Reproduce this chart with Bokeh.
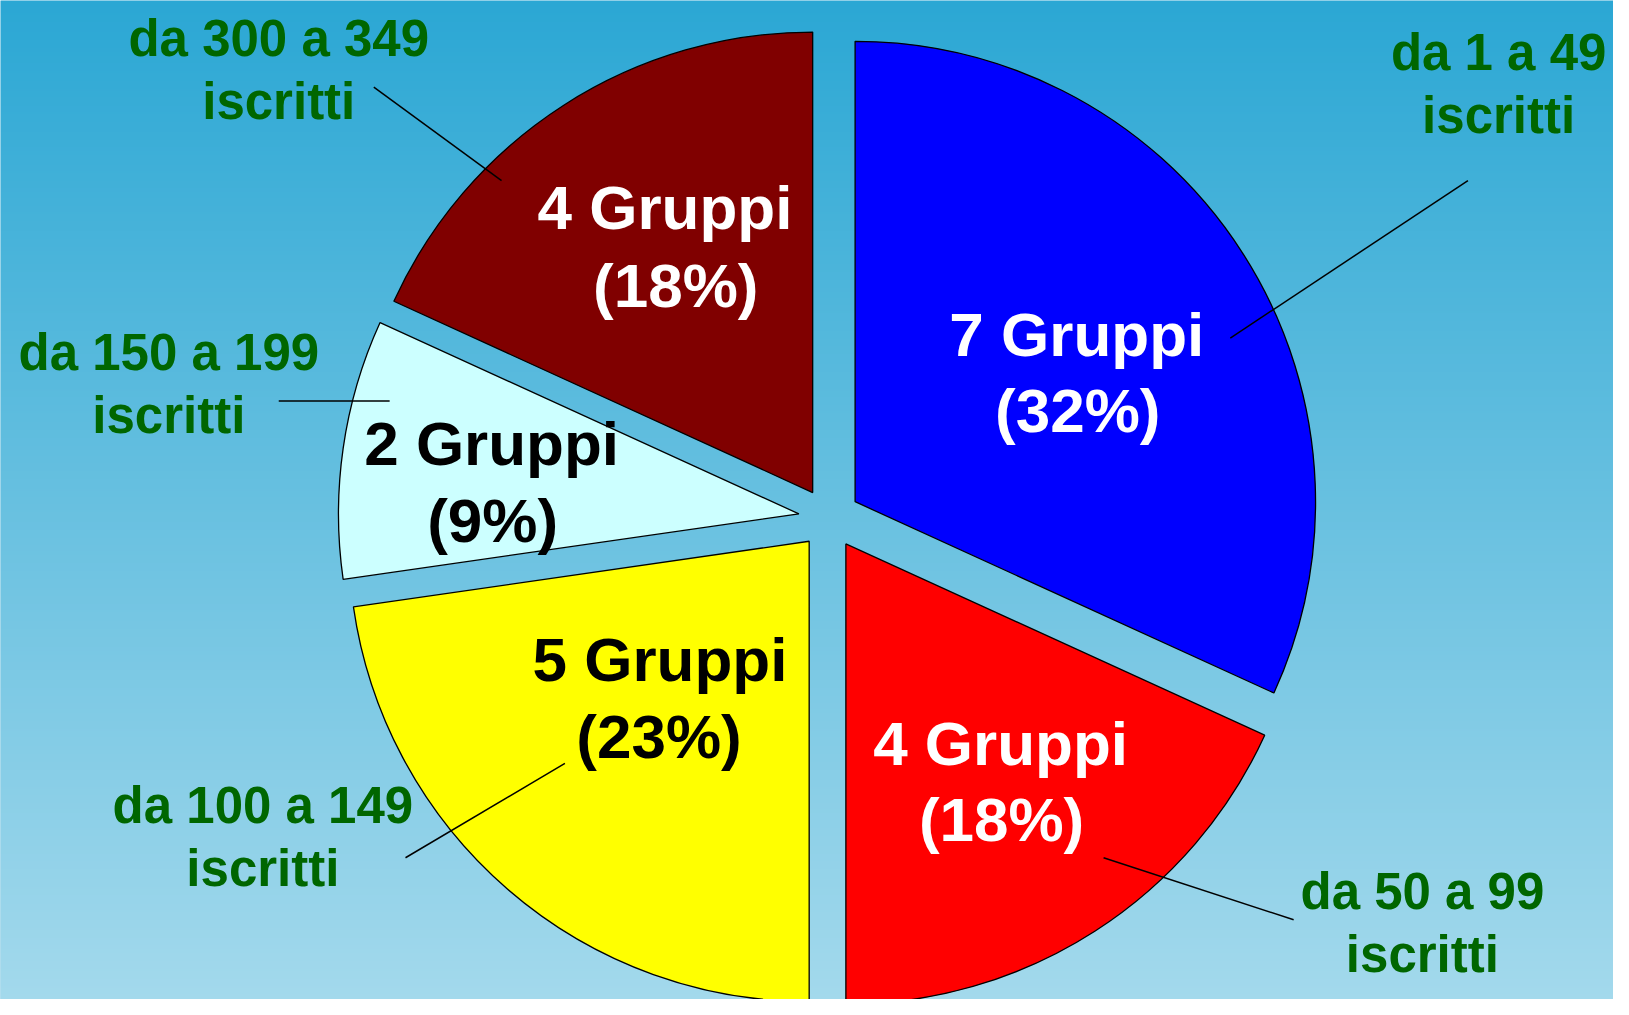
import numpy as np
from bokeh.plotting import figure
from bokeh.models import Range1d, ColumnDataSource
from bokeh.embed import file_html
from bokeh.resources import INLINE
from bokeh.core.properties import value

# ---------------- data ----------------
group_counts = [7, 4, 5, 2, 4]
range_labels = ["da 1 a 49", "da 50 a 99", "da 100 a 149", "da 150 a 199", "da 300 a 349"]
unit_label = "iscritti"
slice_colors = ["#0000FF", "#FF0000", "#FFFF00", "#CCFFFF", "#800000"]
inner_text_colors = ["white", "white", "black", "black", "white"]

# ---------------- layout (reference pixel space, y downwards) ----------------
W_REF, H_REF = 1629, 1015
PIE_CX, PIE_CY = 837, 526
PIE_R = 465
EXPLODE = 31
TEXT_SHIFT = 15  # renderer baseline correction (px, upwards)

# inner label centres: (x line1, baseline1, x line2, baseline2)
inner_pos = [
    (1087, 354, 1088, 432),
    (1010, 770, 1011, 847),
    (666, 685, 665, 763),
    (496, 465, 497, 543),
    (671, 225, 682, 305),
]
# outer label centres: (x, baseline1, baseline2)
outer_pos = [
    (1513, 68, 132),
    (1436, 920, 984),
    (265, 833, 897),
    (170, 373, 437),
    (281, 54, 118),
]
# leader lines (x0, y0, x1, y1)
leader_pos = [
    (1482, 183, 1242, 343),
    (1306, 934, 1114, 871),
    (409, 871, 570, 775),
    (281, 407, 393, 407),
    (377, 88, 506, 183),
]


def fy(y):
    return H_REF - y


def ft(y):
    return H_REF - y + TEXT_SHIFT


p = figure(width=1613, height=999, x_range=Range1d(0, W_REF), y_range=Range1d(0, H_REF),
           output_backend="svg", toolbar_location=None, min_border=0)
p.axis.visible = False
p.grid.visible = False
p.outline_line_color = None
p.background_fill_color = "#6CC0E0"
p.border_fill_color = "#6CC0E0"

# background vertical gradient
rows = 512
t = np.linspace(0.0, 1.0, rows)  # 0 = bottom, 1 = top
bottom_rgb = np.array([163, 217, 236])
top_rgb = np.array([43, 167, 212])
img = np.empty((rows, 1), dtype=np.uint32)
view = img.view(dtype=np.uint8).reshape((rows, 1, 4))
for k in range(3):
    view[:, 0, k] = np.round(bottom_rgb[k] + (top_rgb[k] - bottom_rgb[k]) * t).astype(np.uint8)
view[:, 0, 3] = 255
p.image_rgba(image=[img], x=0, y=0, dw=W_REF, dh=H_REF)

# pie slices (clockwise from 12 o'clock, exploded)
counts = np.array(group_counts, dtype=float)
total = counts.sum()
frac = counts / total
cum_end = np.cumsum(frac) * 2 * np.pi
cum_start = cum_end - frac * 2 * np.pi
mid = (cum_start + cum_end) / 2
xs = PIE_CX + EXPLODE * np.sin(mid)
ys = fy(PIE_CY) + EXPLODE * np.cos(mid)
wsrc = ColumnDataSource(dict(
    x=xs, y=ys,
    start=np.pi / 2 - cum_end,
    end=np.pi / 2 - cum_start,
    color=slice_colors,
))
p.wedge(x="x", y="y", radius=PIE_R, start_angle="start", end_angle="end",
        fill_color="color", line_color="black", line_width=1.3, source=wsrc)

# leader lines
p.segment(x0=[l[0] for l in leader_pos], y0=[fy(l[1]) for l in leader_pos],
          x1=[l[2] for l in leader_pos], y1=[fy(l[3]) for l in leader_pos],
          line_color="black", line_width=1.5)

# inner labels
pct = [int(round(c / total * 100)) for c in group_counts]
line1 = [f"{c} Gruppi" for c in group_counts]
line2 = [f"({v}%)" for v in pct]
isrc = ColumnDataSource(dict(
    x=[q[0] for q in inner_pos] + [q[2] for q in inner_pos],
    y=[ft(q[1]) for q in inner_pos] + [ft(q[3]) for q in inner_pos],
    text=line1 + line2,
    color=inner_text_colors + inner_text_colors,
))
p.text(x="x", y="y", text="text", text_color="color", source=isrc,
       text_font=value("Liberation Sans"), text_font_style="bold",
       text_font_size="62px", text_align="center", text_baseline="alphabetic")

# outer labels
osrc = ColumnDataSource(dict(
    x=[q[0] for q in outer_pos] * 2,
    y=[ft(q[1]) for q in outer_pos] + [ft(q[2]) for q in outer_pos],
    text=range_labels + [unit_label] * len(range_labels),
))
p.text(x="x", y="y", text="text", text_color="#006600", source=osrc,
       text_font=value("Liberation Sans"), text_font_style="bold",
       text_font_size="51px", text_align="center", text_baseline="alphabetic")

open("out.html", "w").write(file_html(p, INLINE))
